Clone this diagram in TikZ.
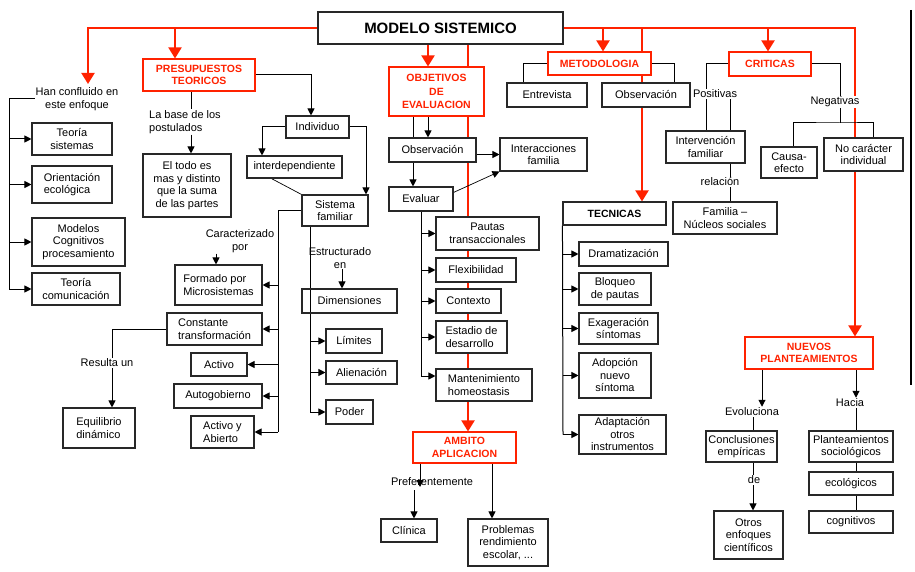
\documentclass[tikz,border=0pt]{standalone}
\usepackage{fontspec}
\setmainfont{Liberation Sans}
\usetikzlibrary{arrows.meta,calc}
\pgfdeclarelayer{bg}
\pgfsetlayers{bg,main}
\definecolor{rd}{RGB}{255,34,0}
\definecolor{bx}{RGB}{40,40,40}
\newcommand\fN{\fontsize{11}{12.5}\selectfont}
\newcommand\fR{\fontsize{10.5}{12.5}\selectfont\bfseries}
\tikzset{
 box/.style={draw=bx, line width=1.1pt, fill=white, inner sep=0pt, align=center, font=\fN},
 rbox/.style={draw=rd, line width=1.1pt, fill=white, inner sep=0pt, align=center, text=rd, font=\fR},
 lbl/.style={inner sep=1pt, align=center, font=\fN},
 conn/.style={line width=1pt, draw=black},
 arr/.style={conn, -{Triangle[length=7pt,width=7pt]}},
 rline/.style={draw=rd, line width=2pt},
 rarr/.style={rline, -{Triangle[length=11pt,width=13pt]}},
}
\begin{document}
\begin{tikzpicture}[x=1pt,y=-1pt]
\useasboundingbox (0,0) rectangle (915,572);
% ---------- title and red headings
\node[box, font=\fontsize{15}{18}\selectfont\bfseries, minimum width=245pt, minimum height=32pt] (title) at (440.5,28) {MODELO SISTEMICO};
\node[rbox, minimum width=112pt, minimum height=32pt] (pres) at (199,75) {PRESUPUESTOS\\TEORICOS};
\node[rbox, minimum width=95pt, minimum height=49pt] (obj) at (436.5,91.5) {OBJETIVOS\\[1pt]DE\\[1pt]EVALUACION};
\node[rbox, minimum width=103pt, minimum height=23pt] (metod) at (599.5,63.5) {METODOLOGIA};
\node[rbox, minimum width=82pt, minimum height=24pt] (crit) at (770,64) {CRITICAS};
\node[rbox, minimum width=128pt, minimum height=32pt] (nuevos) at (809,353) {NUEVOS\\PLANTEAMIENTOS};
\node[rbox, minimum width=103pt, minimum height=31pt] (ambito) at (464.5,447.5) {AMBITO\\APLICACION};
\node[box, font=\fR, minimum width=103pt, minimum height=23pt] (tecn) at (614.5,213.5) {TECNICAS};
% ---------- left column
\node[lbl] (hanconf) at (77,99) {Han confluido en\\este enfoque};
\node[box, minimum width=80pt, minimum height=32pt] (teor) at (72,139) {Teoría\\sistemas};
\node[box, align=left, minimum width=80pt, minimum height=37pt] (orien) at (72,184.5) {Orientación\\ecológica};
\node[box, minimum width=93pt, minimum height=48pt] (model) at (78.5,242) {Modelos\\Cognitivos\\procesamiento};
\node[box, minimum width=88pt, minimum height=32pt] (tcom) at (76,289) {Teoría\\comunicación};
% ---------- presupuestos
\node[lbl, align=left, anchor=west] (labase) at (148,122) {La base de los\\postulados};
\node[box, minimum width=88pt, minimum height=63pt] (eltodo) at (187,185.5) {El todo es\\mas y distinto\\que la suma\\de las partes};
\node[box, minimum width=63pt, minimum height=22pt] (indiv) at (317.5,127) {Individuo};
\node[box, minimum width=95pt, minimum height=22pt] (interd) at (294.5,167) {interdependiente};
\node[box, minimum width=66pt, minimum height=31pt] (sisfam) at (335,210.5) {Sistema\\familiar};
\node[lbl] (caract) at (240,241) {Caracterizado\\por};
\node[box, align=left, minimum width=87pt, minimum height=40pt] (formado) at (218.5,285) {Formado por\\Microsistemas};
\node[box, align=left, minimum width=95pt, minimum height=32pt] (const) at (214.5,329) {Constante\\transformación};
\node[box, minimum width=56pt, minimum height=23pt] (activo) at (219,364.5) {Activo};
\node[box, minimum width=88pt, minimum height=24pt] (autog) at (218,396) {Autogobierno};
\node[box, align=left, minimum width=63pt, minimum height=32pt] (actab) at (222.5,432) {Activo y\\Abierto};
\node[lbl] (resulta) at (107,363) {Resulta un};
\node[box, align=left, minimum width=72pt, minimum height=40pt] (equil) at (99,428) {Equilibrio\\dinámico};
\node[lbl] (estruct) at (340,258) {Estructurado\\en};
\node[box, fill=none, minimum width=95pt, minimum height=24pt] (dimen) at (349.5,301) {Dimensiones};
\node[box, minimum width=56pt, minimum height=24pt] (limit) at (354,341) {Límites};
\node[box, minimum width=71pt, minimum height=23pt] (alien) at (361.5,372.5) {Alienación};
\node[box, minimum width=47pt, minimum height=24pt] (poder) at (349.5,412) {Poder};
% ---------- objetivos
\node[box, minimum width=87pt, minimum height=24pt] (obsv) at (432.5,150) {Observación};
\node[box, minimum width=87pt, minimum height=33pt] (inter) at (543.5,154.5) {Interacciones\\familia};
\node[box, minimum width=64pt, minimum height=24pt] (eval) at (421,199) {Evaluar};
\node[box, minimum width=103pt, minimum height=33pt] (pautas) at (487.5,233.5) {Pautas\\transaccionales};
\node[box, minimum width=80pt, minimum height=24pt] (flex) at (476,270) {Flexibilidad};
\node[box, minimum width=65pt, minimum height=24pt] (contx) at (468.5,301) {Contexto};
\node[box, align=left, minimum width=71pt, minimum height=32pt] (estad) at (471.5,337) {Estadio de\\desarrollo};
\node[box, align=left, minimum width=96pt, minimum height=32pt] (mant) at (484,385) {Mantenimiento\\homeostasis};
\node[lbl] (prefer) at (432,482) {Preferentemente};
\node[box, minimum width=56pt, minimum height=23pt] (clin) at (409,530.5) {Clínica};
\node[box, minimum width=80pt, minimum height=47pt] (probl) at (508,542.5) {Problemas\\rendimiento\\escolar, ...};
% ---------- metodologia / tecnicas
\node[box, minimum width=80pt, minimum height=24pt] (entrev) at (547,95) {Entrevista};
\node[box, minimum width=88pt, minimum height=24pt] (obsm) at (646,95) {Observación};
\node[box, minimum width=89pt, minimum height=24pt] (drama) at (623.5,254) {Dramatización};
\node[box, minimum width=72pt, minimum height=32pt] (bloq) at (615,289) {Bloqueo\\de pautas};
\node[box, minimum width=79pt, minimum height=31pt] (exag) at (618.5,328.5) {Exageración\\síntomas};
\node[box, minimum width=72pt, minimum height=45pt] (adop) at (615,375.5) {Adopción\\nuevo\\síntoma};
\node[box, minimum width=87pt, minimum height=39pt] (adap) at (622.5,434.5) {Adaptación\\otros\\instrumentos};
% ---------- criticas
\node[lbl] (positivas) at (715,94) {Positivas};
\node[box, minimum width=79pt, minimum height=32pt] (interv) at (705.5,147) {Intervención\\familiar};
\node[lbl] (relacion) at (720,182) {relación};
\node[box, minimum width=104pt, minimum height=32pt] (familia) at (725,218) {Familia –\\Núcleos sociales};
\node[lbl, fill=white] (negativas) at (835,102) {Negativas};
\node[box, minimum width=56pt, minimum height=31pt] (causa) at (789,162.5) {Causa-\\efecto};
\node[box, minimum width=79pt, minimum height=33pt] (nocar) at (863.5,154.5) {No carácter\\individual};
% ---------- nuevos planteamientos
\node[lbl] (evoluc) at (752,412) {Evoluciona};
\node[lbl] (hacia) at (850,403) {Hacia};
\node[box, minimum width=71pt, minimum height=31pt] (concl) at (741.5,446.5) {Conclusiones\\empíricas};
\node[lbl] (de) at (754,480) {de};
\node[box, minimum width=69pt, minimum height=48pt] (otros) at (748.5,535) {Otros\\enfoques\\científicos};
\node[box, minimum width=84pt, minimum height=31pt] (plant) at (851,446.5) {Planteamientos\\sociológicos};
\node[box, minimum width=84pt, minimum height=23pt] (ecol) at (851,483.5) {ecológicos};
\node[box, minimum width=84pt, minimum height=22pt] (cogn) at (851,522) {cognitivos};
% ---------- right frame bar
\draw[line width=2.5pt] (911,10) -- (911,385);
% ================= connectors
\begin{pgfonlayer}{bg}
% red
\coordinate (hanIn) at (88,84);
\draw[rarr] (title.west) -| (hanIn);
\coordinate (r1) at (175,28); \draw[rarr] (r1) -- (r1 |- pres.north);
\coordinate (r2) at (428,0); \draw[rarr] (r2 |- title.south) -- (r2 |- obj.north);
\coordinate (r3) at (468,0); \draw[rarr] (r3 |- title.south) -- (r3 |- ambito.north);
\coordinate (r4) at (603,28); \draw[rarr] (r4) -- (r4 |- metod.north);
\coordinate (r5) at (642,28); \draw[rarr] (r5) -- (r5 |- tecn.north);
\coordinate (r6) at (768,28); \draw[rarr] (r6) -- (r6 |- crit.north);
\coordinate (r7) at (855,0); \draw[rarr] (title.east) -| (r7 |- nuevos.north);
% left column
\coordinate (hs) at (9,99);
\draw[conn] (hanconf.west) -- (hs) -- (hs |- tcom.west);
\foreach \n in {teor,orien,model,tcom} \draw[arr] (hs |- \n.west) -- (\n.west);
% presupuestos
\coordinate (p1) at (191,0);
\draw[conn] (p1 |- pres.south) -- (p1 |- labase.north);
\draw[arr] (p1 |- labase.south) -- (p1 |- eltodo.north);
\coordinate (p2) at (311,0);
\draw[arr] (pres.east) -| (p2 |- indiv.north);
\coordinate (p3) at (262,0);
\draw[arr] (indiv.west) -| (p3 |- interd.north);
\coordinate (p4) at (366,0);
\draw[arr] (indiv.east) -| (p4 |- sisfam.north);
\draw[conn, line width=0.7pt] ($(interd.south west)+(25,0)$) -- (sisfam.north west);
\coordinate (ls) at (278,0);
\draw[conn] (sisfam.west) -- (ls |- sisfam.west) -- (ls |- actab.east);
\foreach \n in {formado,const,activo,autog,actab} \draw[arr] (ls |- \n.east) -- (\n.east);
\coordinate (p5) at (216,0);
\draw[arr] (p5 |- caract.south) -- (p5 |- formado.north);
\coordinate (cr) at (112,0);
\draw[conn] (const.west) -- (cr |- const.west) -- (cr |- resulta.north);
\draw[arr] (cr |- resulta.south) -- (cr |- equil.north);
\coordinate (rs) at (310,0);
\draw[conn] (rs |- sisfam.south) -- (rs |- poder.west);
\foreach \n in {limit,alien,poder} \draw[arr] (rs |- \n.west) -- (\n.west);
\coordinate (p6) at (342,0);
\draw[arr] (p6 |- estruct.south) -- (p6 |- dimen.north);
% objetivos
\coordinate (o1) at (413,0); \coordinate (o2) at (428,0);
\draw[conn] (o1 |- obj.south) -- (o1 |- obsv.north);
\draw[arr] (o2 |- obj.south) -- (o2 |- obsv.north);
\draw[arr] (obsv.east |- inter.west) -- (inter.west);
\draw[arr] (o1 |- obsv.south) -- (o1 |- eval.north);
\draw[arr, line width=0.7pt] ($(eval.north east)+(0,6)$) -- (inter.south west);
\coordinate (es) at (421,0);
\coordinate (mArr) at ($(mant.west)+(0,-9)$);
\draw[conn] (es |- eval.south) -- (es |- mArr);
\foreach \n in {pautas,flex,contx,estad} \draw[arr] (es |- \n.west) -- (\n.west);
\draw[arr] (es |- mArr) -- (mArr);
% ambito
\coordinate (pa) at (420,487); \coordinate (pb) at (414,490);
\draw[arr] (pa |- ambito.south) -- (pa);
\draw[arr] (pb) -- (pb |- clin.north);
\coordinate (a2) at (492,0);
\draw[arr] (a2 |- ambito.south) -- (a2 |- probl.north);
% metodologia
\coordinate (m1) at (523,0); \coordinate (m2) at (674,0);
\draw[conn] (metod.west) -| (m1 |- entrev.north);
\draw[conn] (metod.east) -| (m2 |- obsm.north);
% tecnicas
\coordinate (t1) at (563,0);
\draw[conn] (tecn.south west) -- (t1 |- adap.west);
\foreach \n in {drama,bloq,exag,adop,adap} \draw[arr] (t1 |- \n.west) -- (\n.west);
% criticas
\coordinate (c1) at (706,0); \coordinate (c2) at (730,0); \coordinate (c3) at (840,0);
\draw[conn] (crit.west) -| (c1 |- positivas.north);
\draw[conn] (c1 |- positivas.south) -- (c1 |- interv.north);
\draw[conn] (c2 |- positivas.south) -- (c2 |- interv.north);
\draw[conn] (c2 |- interv.south) -- (c2 |- relacion.north);
\draw[conn] (c2 |- relacion.south) -- (c2 |- familia.north);
\draw[conn] (crit.east) -| (c3 |- negativas.north);
\coordinate (nj) at (840,123);
\draw[conn] (c3 |- negativas.south) -- (nj);
\coordinate (c4) at (793,0); \coordinate (c5) at (873,0);
\draw[conn] (c4 |- causa.north) |- (nj) -| (c5 |- nocar.north);
% nuevos
\coordinate (n1) at (762,0); \coordinate (n2) at (753,0); \coordinate (n3) at (856,0);
\draw[arr] (n1 |- nuevos.south) -- (n1 |- evoluc.north);
\draw[conn] (n2 |- evoluc.south) -- (n2 |- concl.north);
\draw[conn] (n2 |- concl.south) -- (n2 |- de.north);
\draw[arr] (n2 |- de.south) -- (n2 |- otros.north);
\draw[arr] (n3 |- nuevos.south) -- (n3 |- hacia.north);
\draw[conn] (n3 |- hacia.south) -- (n3 |- plant.north);
\draw[conn] (n3 |- plant.south) -- (n3 |- ecol.north);
\draw[conn] (n3 |- ecol.south) -- (n3 |- cogn.north);
\end{pgfonlayer}
\end{tikzpicture}
\end{document}
